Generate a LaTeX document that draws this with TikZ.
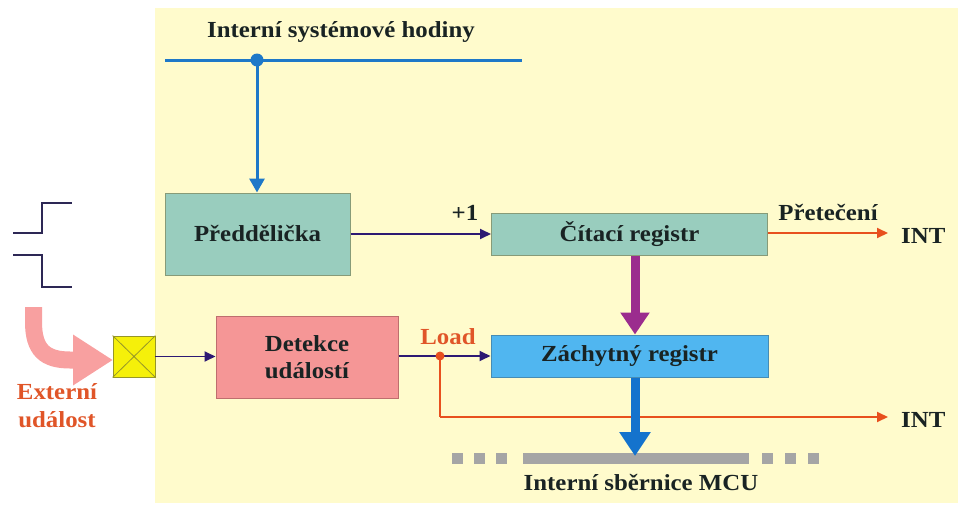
\documentclass[tikz,border=0pt]{standalone}
\usepackage{fontspec}
\setmainfont[FakeStretch=1.08]{Liberation Serif}
\usetikzlibrary{arrows.meta}
\definecolor{bgyel}{RGB}{255,251,204}
\definecolor{tealbox}{RGB}{153,205,190}
\definecolor{tealedge}{RGB}{135,155,120}
\definecolor{pinkbox}{RGB}{245,150,150}
\definecolor{pinkedge}{RGB}{190,110,110}
\definecolor{bluebox}{RGB}{80,182,240}
\definecolor{blueedge}{RGB}{70,140,180}
\definecolor{clockblue}{RGB}{30,120,200}
\definecolor{busblue}{RGB}{20,115,205}
\definecolor{purp}{RGB}{155,44,142}
\definecolor{navy}{RGB}{45,25,115}
\definecolor{orng}{RGB}{232,80,30}
\definecolor{txtred}{RGB}{224,85,40}
\definecolor{txtdark}{RGB}{25,35,35}
\definecolor{busgray}{RGB}{165,165,165}
\definecolor{pinkarrow}{RGB}{248,160,160}
\definecolor{sqyel}{RGB}{245,240,10}
\definecolor{sqedge}{RGB}{150,150,40}
\definecolor{wave}{RGB}{45,40,85}
\begin{document}
\begin{tikzpicture}[x=1pt,y=-1pt,
  lbl/.style={font=\fontsize{23}{27}\selectfont\bfseries, text=txtdark, inner sep=0pt},
  redlbl/.style={font=\fontsize{23}{27}\selectfont\bfseries, text=txtred, inner sep=0pt},
  blk/.style={draw, line width=1pt, inner sep=0pt, font=\fontsize{23}{27}\selectfont\bfseries, text=txtdark, align=center},
  navyarr/.style={draw=navy, line width=1.8pt, -{Triangle[length=11pt,width=10pt]}},
  orarr/.style={draw=orng, line width=1.8pt, -{Triangle[length=11pt,width=10pt]}},
  busseg/.style={fill=busgray, draw=none}
]
\useasboundingbox (0,0) rectangle (961,506);
\fill[bgyel] (155,8) rectangle (958,503);

% title and clock line
\node[lbl] (title) at (341,32) {Interní systémové hodiny};
\coordinate (clkL) at (165,60);
\coordinate (clkR) at (522,60);
\draw[clockblue, line width=3pt] (clkL) -- (clkR);
\coordinate (clkdot) at (257,60);
\fill[clockblue] (clkdot) circle (6.5pt);

% blocks
\node[blk, fill=tealbox, draw=tealedge, minimum width=185pt, minimum height=82pt] (pre) at (257.5,234) {\raisebox{-3pt}{Předdělička}};
\node[blk, fill=tealbox, draw=tealedge, minimum width=276pt, minimum height=42pt] (cit) at (629.5,234) {Čítací registr};
\node[blk, fill=bluebox, draw=blueedge, minimum width=277pt, minimum height=42pt] (zach) at (629.5,356) {Záchytný registr};
\node[blk, fill=pinkbox, draw=pinkedge, minimum width=182pt, minimum height=82pt] (det) at (307,357) {Detekce\\událostí};
\node[draw=sqedge, fill=sqyel, line width=0.8pt, minimum width=42pt, minimum height=41pt, inner sep=0pt] (sq) at (134,356.5) {};
\draw[sqedge, line width=0.8pt] (sq.north west) -- (sq.south east) (sq.north east) -- (sq.south west);

% clock arrow
\draw[clockblue, line width=3pt, -{Triangle[length=14pt,width=15pt]}] (clkdot) -- (pre.north -| clkdot);

% prescaler -> counter
\draw[navyarr] (pre.east |- cit.west) -- (cit.west);
\node[lbl] (plus) at (465,213) {+1};

% counter -> capture
\draw[purp, line width=9pt, -{Triangle[length=22pt,width=28pt]}] (cit.south -| 635,0) -- (zach.north -| 635,0);

% overflow
\coordinate (int1) at (888,233);
\draw[orarr] (cit.east |- int1) -- (int1);
\node[lbl] (pret) at (828,213) {Přetečení};
\node[lbl, anchor=west] (intA) at (901,236) {INT};

% event detection
\draw[navyarr] (sq.east) -- (det.west |- sq.east);
\draw[navyarr] (det.east |- zach.west) -- (zach.west);
\coordinate (ld) at (440,356);
\coordinate (ldc) at (440,417);
\coordinate (int2) at (888,417);
\draw[orng, line width=1.8pt] (ld) -- (ldc);
\draw[orarr] (ldc) -- (int2);
\fill[orng] (ld) circle (4.5pt);
\node[redlbl] (load) at (448,337) {Load};
\node[lbl, anchor=west] (intB) at (901,420) {INT};

% bus
\fill[busseg] (523,453) rectangle (749,464);
\foreach \x in {452,474,496} \fill[busseg] (\x,453) rectangle ++(11,11);
\foreach \x in {762,785,808} \fill[busseg] (\x,453) rectangle ++(11,11);
\coordinate (busin) at (635,456);
\draw[busblue, line width=9pt, -{Triangle[length=24pt,width=30pt]}] (zach.south -| busin) -- (busin);
\node[lbl] (busl) at (641,482) {Interní sběrnice MCU};

% waveforms
\draw[wave, line width=2pt] (13,233) -- (42,233) -- (42,203) -- (72,203);
\draw[wave, line width=2pt] (13,255) -- (42,255) -- (42,287) -- (72,287);

% external event arrow
\coordinate (pkstart) at (33.5,307);
\coordinate (pktip) at (113,360);
\draw[pinkarrow, line width=17pt, -{Triangle[length=40pt,width=48pt]}] (pkstart) -- (33.5,322) .. controls (33.5,350) and (45,360) .. (70,360) -- (pktip);
\node[redlbl] (ext1) at (57,392) {Externí};
\node[redlbl] (ext2) at (57,420) {událost};
\end{tikzpicture}
\end{document}
